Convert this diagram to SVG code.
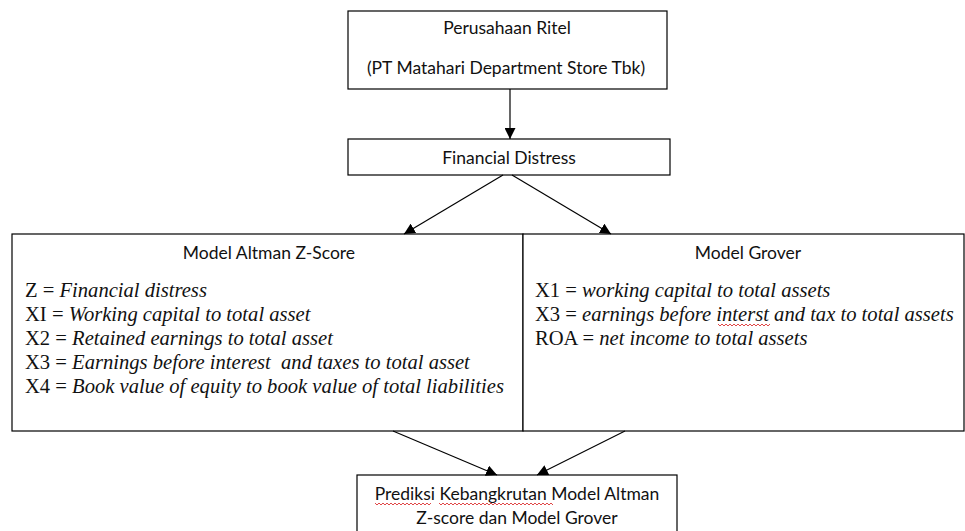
<svg xmlns="http://www.w3.org/2000/svg" width="965" height="531" viewBox="0 0 965 531">
<defs>
<marker id="ah" viewBox="0 0 10 10" refX="10" refY="5" markerWidth="11" markerHeight="11" markerUnits="userSpaceOnUse" orient="auto">
<path d="M0,0 L10,5 L0,10 z" fill="#000"/>
</marker>
<style>
.box{fill:#fff;stroke:#000;stroke-width:1.2}
.lbl{font-family:Lato,"Open Sans",sans-serif;font-size:17.5px;fill:#111;text-anchor:middle}
.eq{font-family:"Liberation Serif","Times New Roman",Times,"DejaVu Serif",serif;font-size:20.6px;fill:#111}
.it{font-style:italic}
.conn line{stroke:#000;stroke-width:1.2;marker-end:url(#ah)}
.sq{fill:none;stroke:#d33;stroke-width:0.9}
</style>
</defs>
<rect width="965" height="531" fill="#fff"/>
<g id="n_ritel">
<rect class="box" x="348" y="11" width="319" height="78"/>
<text class="lbl" x="507" y="34">Perusahaan Ritel</text>
<text class="lbl" x="506" y="74">(PT Matahari Department Store Tbk)</text>
</g>
<g id="n_distress">
<rect class="box" x="348" y="139" width="322" height="36"/>
<text class="lbl" x="509" y="164">Financial Distress</text>
</g>
<g id="n_altman">
<rect class="box" x="12" y="234" width="511" height="197"/>
<text class="lbl" x="269" y="259">Model Altman Z-Score</text>
<text class="eq" x="25" y="297">Z = <tspan class="it">Financial distress</tspan></text>
<text class="eq" x="25" y="321">XI = <tspan class="it">Working capital to total asset</tspan></text>
<text class="eq" x="25" y="345">X2 = <tspan class="it">Retained earnings to total asset</tspan></text>
<text class="eq" x="25" y="369" xml:space="preserve">X3 = <tspan class="it">Earnings before interest  and taxes to total asset</tspan></text>
<text class="eq" x="25" y="393">X4 = <tspan class="it">Book value of equity to book value of total liabilities</tspan></text>
</g>
<g id="n_grover">
<rect class="box" x="523" y="234" width="441" height="197"/>
<text class="lbl" x="748" y="259">Model Grover</text>
<text class="eq" x="535" y="297">X1 = <tspan class="it">working capital to total assets</tspan></text>
<text class="eq" x="535" y="321">X3 = <tspan class="it">earnings before interst and tax to total assets</tspan></text>
<text class="eq" x="535" y="345">ROA = <tspan class="it">net income to total assets</tspan></text>
<path class="sq" d="M718,324 l2,2 l2,-2 l2,2 l2,-2 l2,2 l2,-2 l2,2 l2,-2 l2,2 l2,-2 l2,2 l2,-2 l2,2 l2,-2 l2,2 l2,-2 l2,2 l2,-2 l2,2 l2,-2 l2,2 l2,-2 l2,2 l2,-2 l2,2 l2,-2"/>
</g>
<g id="n_prediksi">
<rect class="box" x="357" y="475" width="320" height="70"/>
<text class="lbl" x="517" y="500">Prediksi Kebangkrutan Model Altman</text>
<text class="lbl" x="517" y="524">Z-score dan Model Grover</text>
<path class="sq" d="M375,503 l2,2 l2,-2 l2,2 l2,-2 l2,2 l2,-2 l2,2 l2,-2 l2,2 l2,-2 l2,2 l2,-2 l2,2 l2,-2 l2,2 l2,-2 l2,2 l2,-2 l2,2 l2,-2 l2,2 l2,-2 l2,2 l2,-2 l2,2 l2,-2 l2,2 l2,-2"/>
<path class="sq" d="M439,503 l2,2 l2,-2 l2,2 l2,-2 l2,2 l2,-2 l2,2 l2,-2 l2,2 l2,-2 l2,2 l2,-2 l2,2 l2,-2 l2,2 l2,-2 l2,2 l2,-2 l2,2 l2,-2 l2,2 l2,-2 l2,2 l2,-2 l2,2 l2,-2 l2,2 l2,-2 l2,2 l2,-2 l2,2 l2,-2 l2,2 l2,-2 l2,2 l2,-2 l2,2 l2,-2 l2,2 l2,-2 l2,2 l2,-2 l2,2 l2,-2 l2,2 l2,-2 l2,2 l2,-2 l2,2 l2,-2 l2,2 l2,-2 l2,2 l2,-2 l2,2 l2,-2 l2,2"/>
</g>
<g class="conn">
<line x1="510" y1="89" x2="510" y2="139"/>
<line x1="503" y1="175" x2="404" y2="234"/>
<line x1="512" y1="175" x2="611" y2="234"/>
<line x1="393" y1="431" x2="497" y2="475"/>
<line x1="625" y1="431" x2="537" y2="475"/>
</g>
</svg>
